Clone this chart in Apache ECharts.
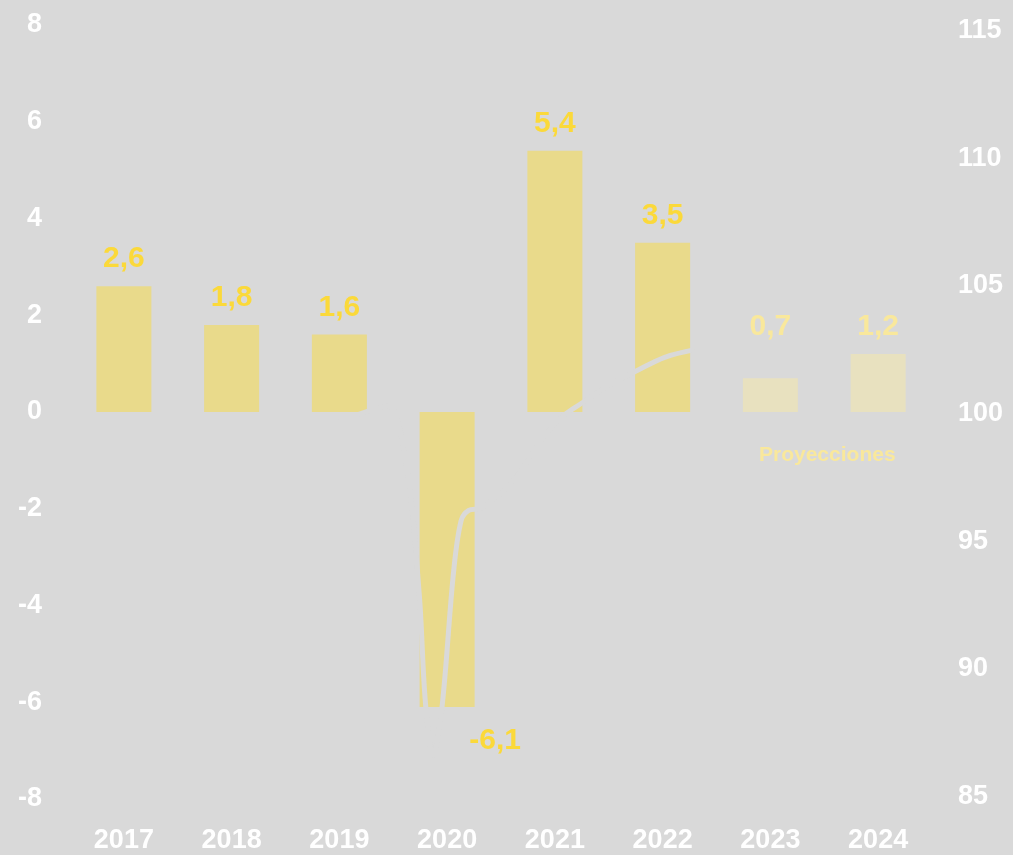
<!DOCTYPE html>
<html>
<head>
<meta charset="utf-8">
<style>
  html, body { margin: 0; padding: 0; background: #d9d9d9; }
  #chart { width: 1013px; height: 855px; }
</style>
<script src="https://cdn.jsdelivr.net/npm/echarts@6/dist/echarts.min.js"></script>
</head>
<body>
<div id="chart"></div>
<script>
// Annual growth (%) and projections
const years = ['2017', '2018', '2019', '2020', '2021', '2022', '2023', '2024'];
const growth = [2.6, 1.8, 1.6, -6.1, 5.4, 3.5, 0.7, 1.2];
const projected = [false, false, false, false, false, false, true, true];

// Activity index (right axis), positioned along the year axis
const indexPeriod = [2.00, 2.24, 2.45, 2.62, 2.74, 2.80, 2.87, 2.95, 3.06, 3.13, 3.20, 3.32, 3.60, 3.85, 4.00, 4.09, 4.23, 4.50, 4.75, 5.02, 5.30];
const indexValue  = [99.7, 100.05, 100.3, 98.0, 93.0, 88.6, 86.6, 88.4, 93.8, 95.8, 96.2, 96.3, 97.3, 98.8, 99.6, 99.95, 100.35, 101.1, 101.65, 102.2, 102.5];

const leftTicks = [-8, -6, -4, -2, 0, 2, 4, 6, 8];
const rightTicks = [85, 90, 95, 100, 105, 110, 115];

const BG = '#d9d9d9';
const BAR = '#e9da8b';
const BAR_PROJ = '#e8e1bf';
const LABEL = '#fbd93a';
const LABEL_PROJ = '#f9e89c';
const FONT = '"Liberation Sans", Arial, sans-serif';

const fmt = v => String(v).replace('.', ',');

const barData = growth.map((v, i) => {
  const item = {
    value: v,
    itemStyle: { color: projected[i] ? BAR_PROJ : BAR },
    label: { color: projected[i] ? LABEL_PROJ : LABEL }
  };
  if (v < 0) {
    item.label.position = 'bottom';
    item.label.offset = [48, 7];
  }
  if (years[i] === '2023') {
    item.label.offset = [0, -24];
  }
  return item;
});

const chart = echarts.init(document.getElementById('chart'), null, { renderer: 'canvas' });

chart.setOption({
  backgroundColor: BG,
  animation: false,
  grid: { left: 70, right: 81, top: 25, bottom: 56, containLabel: false },
  xAxis: [
    {
      type: 'category',
      data: years,
      position: 'bottom',
      axisLine: { show: false, onZero: false },
      axisTick: { show: false },
      splitLine: { show: false },
      axisLabel: {
        color: '#ffffff', fontFamily: FONT, fontWeight: 'bold', fontSize: 27,
        margin: 28
      }
    },
    {
      type: 'value',
      min: -0.5, max: 7.5,
      show: false
    }
  ],
  yAxis: [
    {
      type: 'value',
      min: -8, max: 8, interval: 2,
      axisLine: { show: false },
      axisTick: { show: false },
      splitLine: { show: false },
      axisLabel: {
        color: '#ffffff', fontFamily: FONT, fontWeight: 'bold', fontSize: 27,
        margin: 28, align: 'right',
        formatter: v => leftTicks.includes(v) ? String(v) : ''
      }
    },
    {
      type: 'value',
      position: 'right',
      min: 84.9, max: 115.215,
      axisLine: { show: false },
      axisTick: { show: false },
      splitLine: { show: false },
      axisLabel: {
        color: '#ffffff', fontFamily: FONT, fontWeight: 'bold', fontSize: 27,
        margin: 26, align: 'left',
        customValues: rightTicks,
        formatter: v => String(Math.round(v))
      }
    }
  ],
  series: [
    {
      type: 'bar',
      xAxisIndex: 0,
      yAxisIndex: 0,
      data: barData,
      barWidth: 55,
      z: 2,
      label: {
        show: true,
        position: 'top',
        distance: 12,
        fontFamily: FONT,
        fontWeight: 'bold',
        fontSize: 30,
        formatter: p => fmt(p.value)
      }
    },
    {
      type: 'line',
      xAxisIndex: 1,
      yAxisIndex: 1,
      data: indexPeriod.map((x, i) => [x, indexValue[i]]),
      smooth: 0.35,
      symbol: 'none',
      lineStyle: { color: BG, width: 5 },
      z: 5
    }
  ],
  graphic: [
    {
      type: 'text',
      left: 759,
      top: 445,
      z: 10,
      style: {
        text: 'Proyecciones',
        fill: LABEL_PROJ,
        font: 'bold 21px ' + FONT
      }
    }
  ]
});
</script>
</body>
</html>
